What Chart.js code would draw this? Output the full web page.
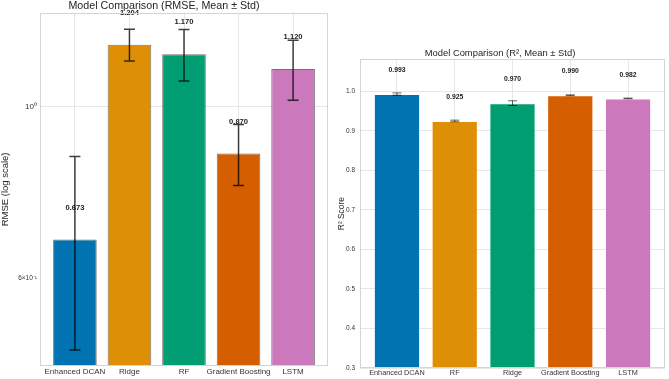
<!DOCTYPE html>
<html>
<head>
<meta charset="utf-8">
<script src="https://cdn.jsdelivr.net/npm/chart.js@4.4.0/dist/chart.umd.min.js"></script>
<style>
  body { margin: 0; background: #fff; width: 669px; height: 379px; overflow: hidden; position: relative; }
  canvas { position: absolute; top: 0; }
  #rmseChart { left: 0; }
  #r2Chart { left: 335px; }
</style>
</head>
<body>
<canvas id="rmseChart" width="335" height="379"></canvas>
<canvas id="r2Chart" width="334" height="379"></canvas>
<script>
// RMSE panel (log scale)
const rmseModels = ['Enhanced DCAN', 'Ridge', 'RF', 'Gradient Boosting', 'LSTM'];
const rmseMean = [0.673, 1.204, 1.170, 0.870, 1.120];
const rmseStd = [0.189, 0.057, 0.090, 0.079, 0.100];
const rmseTicks = [0.6, 1];

// R² panel
const r2Models = ['Enhanced DCAN', 'RF', 'Ridge', 'Gradient Boosting', 'LSTM'];
const r2Mean = [0.993, 0.925, 0.970, 0.990, 0.982];
const r2Std = [0.003, 0.002, 0.006, 0.001, 0.0008];
const r2Ticks = [0.3, 0.4, 0.5, 0.6, 0.7, 0.8, 0.9, 1.0];

const palette = ['#0173b2', '#de8f05', '#029e73', '#d55e00', '#cc78bc'];
const FONT = '"Liberation Sans", Arial, sans-serif';

Chart.defaults.font.family = FONT;
Chart.defaults.color = '#333';

// error bars, value labels and the frame around the plot area
const extras = {
    id: 'extras',
    afterDatasetsDraw(chart, args, opts) {
        const ctx = chart.ctx;
        const y = chart.scales.y;
        const meta = chart.getDatasetMeta(0);
        ctx.save();
        meta.data.forEach((bar, i) => {
            const m = opts.mean[i], s = opts.std[i];
            // value label
            ctx.fillStyle = '#222';
            ctx.font = 'bold ' + opts.labelSize + 'px ' + FONT;
            ctx.textAlign = 'center';
            ctx.textBaseline = 'middle';
            ctx.fillText(m.toFixed(3), bar.x, y.getPixelForValue(opts.labelAt(m)));
            // error bar
            const yt = y.getPixelForValue(m + s);
            const yb = y.getPixelForValue(m - s);
            ctx.strokeStyle = opts.errColor;
            ctx.lineWidth = opts.errWidth;
            ctx.beginPath();
            ctx.moveTo(bar.x, yt); ctx.lineTo(bar.x, yb);
            ctx.moveTo(bar.x - opts.cap, yt); ctx.lineTo(bar.x + opts.cap, yt);
            ctx.moveTo(bar.x - opts.cap, yb); ctx.lineTo(bar.x + opts.cap, yb);
            ctx.stroke();
        });
        const a = chart.chartArea;
        ctx.strokeStyle = '#d4d4d4';
        ctx.lineWidth = 1;
        ctx.strokeRect(Math.round(a.left) + 0.5, Math.round(a.top) + 0.5,
                       Math.round(a.right - a.left) - 1, Math.round(a.bottom - a.top) - 1);
        ctx.restore();
    }
};

function catAxis(models, fontSize, height) {
    return {
        type: 'linear',
        min: -0.64,
        max: 4.64,
        offset: false,
        afterBuildTicks: s => { s.ticks = models.map((m, i) => ({ value: i })); },
        afterFit: s => { s.height = height; },
        ticks: {
            autoSkip: false,
            maxRotation: 0,
            padding: 1,
            color: '#333',
            font: { size: fontSize },
            callback: v => models[v]
        },
        grid: { color: '#e6e6e6', drawTicks: false, offset: false },
        border: { display: false }
    };
}

// left: RMSE
new Chart(document.getElementById('rmseChart'), {
    type: 'bar',
    data: {
        datasets: [{
            data: rmseMean.map((v, i) => ({ x: i, y: v })),
            backgroundColor: palette,
            borderColor: 'rgba(0,0,0,0.55)',
            borderWidth: 1,
            categoryPercentage: 1.0,
            barPercentage: 0.8
        }]
    },
    options: {
        responsive: false,
        animation: false,
        devicePixelRatio: 1,
        layout: { padding: { top: 0, right: 7, bottom: 0, left: 0 } },
        plugins: {
            legend: { display: false },
            tooltip: { enabled: false },
            title: {
                display: true,
                text: 'Model Comparison (RMSE, Mean ± Std)',
                color: '#262626',
                font: { size: 10.7, weight: 'normal' },
                padding: { top: 0, bottom: 0 }
            },
            extras: {
                mean: rmseMean, std: rmseStd,
                labelAt: m => m * 1.1,
                labelSize: 7.6,
                errColor: 'rgba(0,0,0,0.75)', errWidth: 1.5, cap: 5.5
            }
        },
        scales: {
            x: catAxis(rmseModels, 8, 13),
            y: {
                type: 'logarithmic',
                min: 0.4614,
                max: 1.324,
                afterBuildTicks: s => { s.ticks = rmseTicks.map(v => ({ value: v })); },
                afterFit: s => { s.width = 40; },
                ticks: {
                    padding: 3,
                    color: '#333',
                    font: c => ({ size: c.tick && c.tick.value === 1 ? 8 : 6.5 }),
                    callback: v => v === 1 ? '10⁰' : '6×10⁻¹'
                },
                grid: {
                    drawTicks: false,
                    color: c => c.tick && c.tick.value === 1 ? '#e6e6e6' : 'rgba(0,0,0,0)'
                },
                border: { display: false },
                title: {
                    display: true,
                    text: 'RMSE (log scale)',
                    color: '#262626',
                    font: { size: 9.5 },
                    padding: 0
                }
            }
        }
    },
    plugins: [extras]
});

// right: R²
new Chart(document.getElementById('r2Chart'), {
    type: 'bar',
    data: {
        datasets: [{
            data: r2Mean.map((v, i) => ({ x: i, y: v })),
            backgroundColor: palette,
            borderColor: 'rgba(255,255,255,0.4)',
            borderWidth: 1,
            categoryPercentage: 1.0,
            barPercentage: 0.8
        }]
    },
    options: {
        responsive: false,
        animation: false,
        devicePixelRatio: 1,
        layout: { padding: { top: 48, right: 4, bottom: 0, left: 0 } },
        plugins: {
            legend: { display: false },
            tooltip: { enabled: false },
            title: {
                display: true,
                text: 'Model Comparison (R², Mean ± Std)',
                color: '#262626',
                font: { size: 9.4, weight: 'normal' },
                padding: { top: 0, bottom: 0 }
            },
            extras: {
                mean: r2Mean, std: r2Std,
                labelAt: m => m + 0.06,
                labelSize: 6.8,
                errColor: 'rgba(0,0,0,0.6)', errWidth: 1, cap: 4.5
            }
        },
        scales: {
            x: catAxis(r2Models, 7.3, 11),
            y: {
                type: 'linear',
                min: 0.3,
                max: 1.081,
                afterBuildTicks: s => { s.ticks = r2Ticks.map(v => ({ value: v })); },
                afterFit: s => { s.width = 25; },
                ticks: {
                    padding: 5,
                    color: '#333',
                    font: { size: 6.5 },
                    callback: v => v.toFixed(1)
                },
                grid: { color: '#e6e6e6', drawTicks: false },
                border: { display: false },
                title: {
                    display: true,
                    text: 'R² Score',
                    color: '#262626',
                    font: { size: 8.4 },
                    padding: { top: 2, bottom: 0 }
                }
            }
        }
    },
    plugins: [extras]
});
</script>
</body>
</html>
